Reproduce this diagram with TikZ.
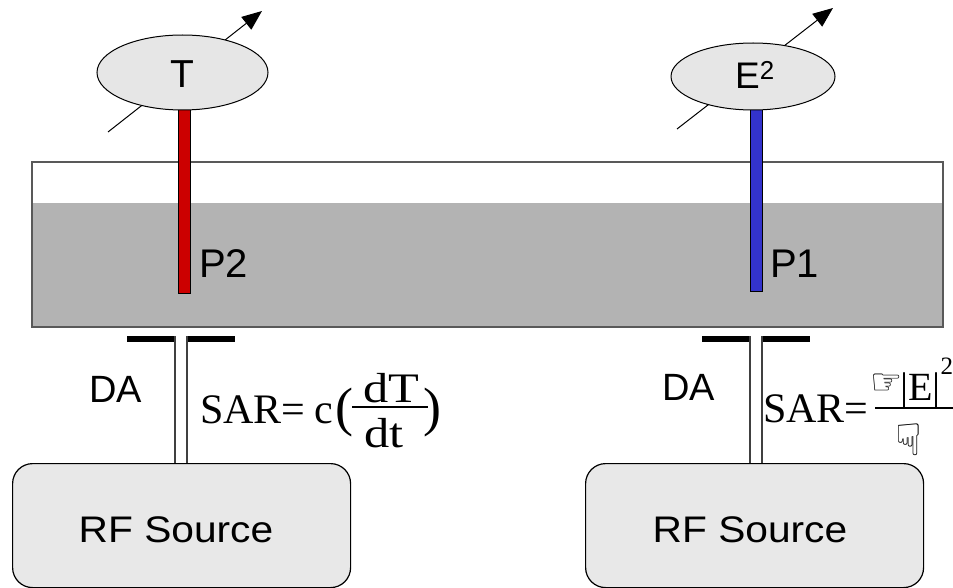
\documentclass[tikz,border=0pt]{standalone}
\usepackage{fontspec}
\setmainfont{Liberation Sans}
\newfontfamily\tnr{Liberation Serif}
\newfontfamily\djv{DejaVu Sans}
\usetikzlibrary{arrows.meta,shapes.geometric}
\definecolor{tankline}{HTML}{595959}
\definecolor{liquid}{HTML}{B3B3B3}
\definecolor{meterfill}{HTML}{E6E6E6}
\definecolor{boxfill}{HTML}{E8E8E8}
\definecolor{probered}{HTML}{CC0000}
\definecolor{probeblue}{HTML}{3333CC}
\definecolor{feedline}{HTML}{404040}
\begin{document}
\begin{tikzpicture}[x=1pt,y=-1pt,
  lbl/.style={inner sep=0pt, anchor=base west},
  clbl/.style={inner sep=0pt, anchor=base},
  meter/.style={draw=black, line width=1pt, fill=meterfill, ellipse, inner sep=0pt},
  probe/.style={draw=black, line width=0.6pt, inner sep=0pt, anchor=north, minimum width=12pt},
  meterarrow/.style={draw=black, line width=1pt, -{Triangle[length=20pt,width=16pt]}},
  antbar/.style={draw=black, line width=6pt, line cap=butt},
  feed/.style={draw=feedline, line width=1.3pt},
  rfbox/.style={draw=black, line width=1.2pt, fill=boxfill, rounded corners=20pt, inner sep=0pt, anchor=north west, minimum width=338pt, minimum height=124pt},
  fracbar/.style={draw=black, line width=1.4pt}
]
\useasboundingbox (0,0) rectangle (953,588);
\fill[white] (0,0) rectangle (953,588);

% tank
\fill[liquid] (31,203) rectangle (942,326);
\node[draw=tankline, line width=1.6pt, inner sep=0pt, anchor=north west,
      minimum width=911pt, minimum height=165pt] (tank) at (31,161) {};

% meter arrows
\coordinate (Ta) at (108,132); \coordinate (Tb) at (262,11);
\coordinate (Ea) at (677,129); \coordinate (Eb) at (833,8);
\draw[meterarrow] (Ta) -- (Tb);
\draw[meterarrow] (Ea) -- (Eb);

% probes
\node[probe, fill=probered, minimum height=185pt] (probeP2) at (184,108) {};
\node[probe, fill=probeblue, minimum height=183pt] (probeP1) at (756,108) {};

% meters
\node[meter, minimum width=171pt, minimum height=75pt] (meterT) at (182.5,72.5) {};
\node[meter, minimum width=164pt, minimum height=67pt] (meterE) at (753,76.5) {};
\node[clbl, font=\fontsize{39}{39}\selectfont] (Tlbl) at (182.5,88) {T};
\node[clbl, font=\fontsize{37}{37}\selectfont] (Elbl) at (755,89) {E\textsuperscript{2}};

% probe labels
\node[lbl, font=\fontsize{40}{40}\selectfont] (P2lbl) at (199,277) {P2};
\node[lbl, font=\fontsize{40}{40}\selectfont] (P1lbl) at (770,277) {P1};

% antennas
\draw[antbar] (127,339) -- (175,339);
\draw[antbar] (187,339) -- (235,339);
\draw[antbar] (702,339) -- (750,339);
\draw[antbar] (762,339) -- (810,339);
\coordinate (fL1) at (175,336); \coordinate (fL2) at (187,336);
\coordinate (fR1) at (750,336); \coordinate (fR2) at (762,336);

% RF sources
\node[rfbox] (rfL) at (12,463) {};
\node[rfbox] (rfR) at (585,463) {};
\node[clbl, font=\fontsize{37}{37}\selectfont] (rfLlbl) at (176,542) {\scalebox{1.1}[1]{RF Source}};
\node[clbl, font=\fontsize{37}{37}\selectfont] (rfRlbl) at (750,542) {\scalebox{1.1}[1]{RF Source}};

\draw[feed] (fL1) -- (fL1 |- rfL.north);
\draw[feed] (fL2) -- (fL2 |- rfL.north);
\draw[feed] (fR1) -- (fR1 |- rfR.north);
\draw[feed] (fR2) -- (fR2 |- rfR.north);

% DA labels
\node[lbl, font=\fontsize{38}{38}\selectfont] (DAL) at (89,402) {DA};
\node[lbl, font=\fontsize{38}{38}\selectfont] (DAR) at (662,400) {DA};

% left formula
\node[lbl, font=\tnr\fontsize{42}{42}\selectfont] (sarL) at (200,423) {SAR=};
\node[lbl, font=\tnr\fontsize{42}{42}\selectfont] (cL) at (314,423) {c};
\node[lbl, font=\tnr\fontsize{54}{54}\selectfont] (opL) at (335,425) {(};
\node[clbl, font=\tnr\fontsize{42}{42}\selectfont] (dTL) at (391,402) {\scalebox{1.2}[1]{dT}};
\node[clbl, font=\tnr\fontsize{42}{42}\selectfont] (dtL) at (384,447) {\scalebox{1.2}[1]{dt}};
\node[lbl, font=\tnr\fontsize{54}{54}\selectfont] (cpL) at (423,425) {)};
\coordinate (fbL1) at (352,407); \coordinate (fbL2) at (428,407);
\draw[fracbar] (fbL1) -- (fbL2);

% right formula
\node[lbl, font=\tnr\fontsize{42}{42}\selectfont] (sarR) at (763,422) {SAR=};
\node[lbl, font=\djv\fontsize{36}{36}\selectfont] (handR) at (870,394) {☞};
\node[lbl, font=\tnr\fontsize{40}{40}\selectfont] (absE) at (900,400)
  {|E|\raisebox{26pt}{\fontsize{25}{25}\selectfont 2}};
\node[clbl, font=\djv\fontsize{44}{44}\selectfont] (handD) at (909,455) {☟};
\coordinate (fbR1) at (875,408); \coordinate (fbR2) at (953,408);
\draw[fracbar] (fbR1) -- (fbR2);
\end{tikzpicture}
\end{document}
